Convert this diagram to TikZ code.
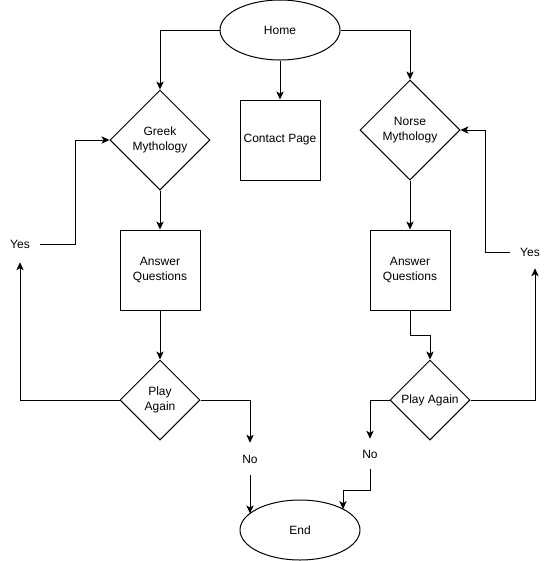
\documentclass[tikz,border=0pt]{standalone}
\usepackage{fontspec}
\setmainfont{Liberation Sans}
\usetikzlibrary{shapes.geometric,arrows.meta,calc}
\begin{document}
\begin{tikzpicture}[x=0.75pt,y=-0.75pt,
  every node/.style={font=\fontsize{9}{11.25}\selectfont,align=center,inner sep=0pt},
  box/.style={draw,line width=0.75pt,rectangle,minimum width=60pt,minimum height=60pt},
  oval/.style={draw,line width=0.75pt,ellipse,minimum width=90pt,minimum height=45pt},
  decide/.style={draw,line width=0.75pt,diamond,aspect=1},
  lbl/.style={minimum width=30pt},
  arr/.style={line width=0.75pt,-{Stealth[length=6pt,width=5.5pt,inset=1.6pt]}},
  ln/.style={line width=0.75pt}]
\fill[white] (0,0) rectangle (550,561);
\useasboundingbox (0,0) rectangle (550,561);
\node[oval] (home) at (280,30) {Home};
\node[decide,minimum width=75pt,minimum height=75pt] (greek) at (160,140) {Greek\\Mythology};
\node[box] (contact) at (280,140) {Contact Page};
\node[decide,minimum width=75pt,minimum height=75pt] (norse) at (410,130) {Norse\\Mythology};
\node[box] (aq1) at (160,270) {Answer\\Questions};
\node[box] (aq2) at (410,270) {Answer\\Questions};
\node[decide,minimum width=60pt,minimum height=60pt] (pa1) at (160,400) {Play\\Again};
\node[decide,minimum width=60pt,minimum height=60pt] (pa2) at (430,400) {Play Again};
\node[lbl,minimum height=27pt] (yes1) at (20,244) {Yes};
\node[lbl,minimum height=24pt] (yes2) at (530,252) {Yes};
\node[lbl,minimum height=24pt] (no1) at (250,459) {No};
\node[lbl,minimum height=22.5pt] (no2) at (370,454) {No};
\node[oval] (end) at (300,530) {End};
\coordinate (g1) at (75,244);
\coordinate (n1) at (485,252);
\coordinate (e1) at (250,513.4);
\coordinate (e2) at (343,509.1);
% connectors
\draw[arr] (home.west) -| (greek.north);
\draw[arr] (home.east) -| (norse.north);
\draw[arr] (home.south) -- (contact.north);
\draw[arr] (greek.south) -- (aq1.north);
\draw[arr] (norse.south) -- (aq2.north);
\draw[arr] (aq1.south) -- (pa1.north);
\draw[arr] (aq2.south) -- ++(0,25) -| (pa2.north);
\draw[arr] (pa1.west) -| (yes1.south);
\draw[arr] (yes1.east) -- (g1) |- (greek.west);
\draw[arr] (pa1.east) -| (no1.north);
\draw[arr] (no1.south) -- (e1);
\draw[arr] (pa2.west) -| (no2.north);
\draw[arr] (no2.south) -- ++(0,21) -| (e2);
\draw[arr] (pa2.east) -| ([shift={(5,0)}]yes2.south);
\draw[arr] (yes2.west) -- (n1) |- (norse.east);
\end{tikzpicture}
\end{document}
